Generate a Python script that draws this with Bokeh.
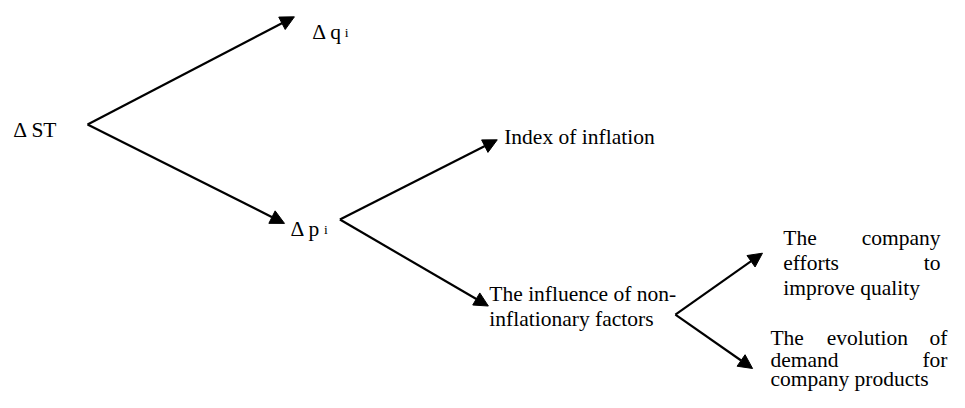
from bokeh.plotting import figure
from bokeh.models import Arrow, NormalHead, ColumnDataSource, Range1d, Label
from bokeh.embed import file_html
from bokeh.resources import INLINE

# ---- diagram content ----
root_label = "Δ ST"
level1_labels = ["Δ q", "Δ p"]
level1_sub = ["i", "i"]
inflation_label = "Index of inflation"
noninfl_lines = ["The influence of non-", "inflationary factors"]
quality_words = [["The", "company"], ["efforts", "to"], ["improve quality"]]
demand_words = [["The", "evolution", "of"], ["demand", "for"], ["company products"]]

# ---- layout (reference-image pixel coordinates, y downwards) ----
arrow_x0 = [88, 88, 343, 343, 682, 682]
arrow_y0 = [129, 129, 228, 228, 327, 327]
arrow_x1 = [297, 287, 502, 493, 770, 760]
arrow_y1 = [17, 232, 145, 318, 263, 383]

FONT = "Liberation Serif"
FS = "21.5px"
FS_SUB = "13.5px"

p = figure(width=949, height=392, output_backend="svg", toolbar_location=None,
           x_range=Range1d(0, 959), y_range=Range1d(408, 0), min_border=0)
p.axis.visible = False
p.grid.visible = False
p.outline_line_color = None
p.background_fill_color = "white"
p.border_fill_color = "white"

src = ColumnDataSource(dict(x0=arrow_x0, y0=arrow_y0, x1=arrow_x1, y1=arrow_y1))
p.add_layout(Arrow(x_start="x0", y_start="y0", x_end="x1", y_end="y1", source=src,
                   line_color="black", line_width=2.2,
                   end=NormalHead(size=14, fill_color="black", line_color="black", line_width=1)))

def txt(x, y, t, size=FS, align="left"):
    p.add_layout(Label(x=x, y=y, text=t, text_font=FONT, text_font_size=size,
                       text_baseline="alphabetic", text_align=align, text_color="black"))

# root
txt(13, 135, root_label)
# level 1
txt(315, 33, level1_labels[0]); txt(348, 33, level1_sub[0], size=FS_SUB)
txt(293, 238, level1_labels[1]); txt(327, 238, level1_sub[1], size=FS_SUB)
# level 2
txt(509, 142, inflation_label)
txt(494, 305, noninfl_lines[0])
txt(494, 332, noninfl_lines[1])
# level 3 - justified blocks
q_left, q_right, q_base = 791, 950, [247, 273, 299]
txt(q_left, q_base[0], quality_words[0][0]); txt(q_right, q_base[0], quality_words[0][1], align="right")
txt(q_left, q_base[1], quality_words[1][0]); txt(q_right, q_base[1], quality_words[1][1], align="right")
txt(q_left, q_base[2], quality_words[2][0])

d_left, d_right, d_base = 778, 957, [351, 374, 394]
txt(d_left, d_base[0], demand_words[0][0]); txt(835, d_base[0], demand_words[0][1]); txt(d_right, d_base[0], demand_words[0][2], align="right")
txt(d_left, d_base[1], demand_words[1][0]); txt(d_right, d_base[1], demand_words[1][1], align="right")
txt(d_left, d_base[2], demand_words[2][0])

open("out.html", "w").write(file_html(p, INLINE))
